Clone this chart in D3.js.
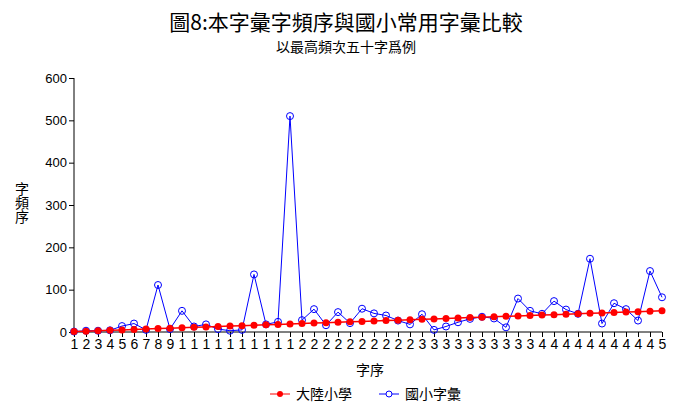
<!DOCTYPE html>
<html><head><meta charset="utf-8">
<script src="https://cdn.jsdelivr.net/npm/d3@7"></script>
<style>body{margin:0;background:#fff}svg{display:block}</style>
</head><body><div id="c"></div>
<script>
const titleText = "圖8:本字彙字頻序與國小常用字彙比較";
const subtitleText = "以最高頻次五十字爲例";
const seriesNames = ["大陸小學", "國小字彙"];
const ranks = d3.range(1, 51);
const mainland = d3.range(1, 51);
const taiwan = [1,3,3,4,14,20,5,111,7,50,13,18,7,3,5,136,18,24,510,28,54,16,47,21,55,44,39,27,18,42,5,13,23,31,36,32,11,79,50,43,73,53,43,173,20,68,54,27,144,82];
const yTicks = [0,100,200,300,400,500,600];

const W = 691, H = 418;
const svg = d3.select("#c").append("svg").attr("width", W).attr("height", H);
const cjk = "'Noto Sans CJK TC','Noto Sans CJK SC',sans-serif";
const num = "'Liberation Sans',Arial,sans-serif";

const x = d3.scalePoint().domain(ranks).range([74, 662]);
const y = d3.scaleLinear().domain([0, 600]).range([332, 78]);

svg.append("text").attr("x", 346).attr("y", 30).attr("text-anchor", "middle")
  .style("font-family", cjk).style("font-size", "21px").attr("fill", "#000").text(titleText);
svg.append("text").attr("x", 346).attr("y", 52).attr("text-anchor", "middle")
  .style("font-family", cjk).style("font-size", "14px").attr("fill", "#000").text(subtitleText);

// Y axis
const ya = svg.append("g").attr("transform", "translate(74,0)")
  .call(d3.axisLeft(y).tickValues(yTicks).tickSize(5).tickPadding(2).tickFormat(d3.format("d")));
ya.select(".domain").attr("stroke", "#000").attr("d", "M0,78V332");
ya.selectAll("text").style("font-family", num).style("font-size", "13px").attr("fill", "#000");

// X axis
const xa = svg.append("g").attr("transform", "translate(0,332)")
  .call(d3.axisBottom(x).tickSize(5).tickPadding(2).tickFormat(d => String(d)[0]));
xa.select(".domain").attr("stroke", "#000").attr("d", "M74,0H662");
xa.selectAll("text").style("font-family", num).style("font-size", "14px").attr("fill", "#000");

// Axis titles
svg.append("text").attr("x", 22).attr("y", 203).attr("text-anchor", "middle")
  .style("font-family", cjk).style("font-size", "14px")
  .style("writing-mode", "vertical-rl").style("text-orientation", "upright")
  .style("letter-spacing", "0px").attr("fill", "#000").text("字頻序");
svg.append("text").attr("x", 370).attr("y", 375).attr("text-anchor", "middle")
  .style("font-family", cjk).style("font-size", "14px").attr("fill", "#000").text("字序");

const line = d3.line().x((d, i) => x(ranks[i])).y(d => y(d));

// Taiwan (blue)
svg.append("path").datum(taiwan).attr("d", line).attr("fill", "none").attr("stroke", "#0000ff").attr("stroke-width", 1);
svg.selectAll(".tw").data(taiwan).enter().append("circle")
  .attr("cx", (d, i) => x(ranks[i])).attr("cy", d => y(d)).attr("r", 3.5)
  .attr("fill", "none").attr("stroke", "#0000ff").attr("stroke-width", 1);

// Mainland (red)
svg.append("path").datum(mainland).attr("d", line).attr("fill", "none").attr("stroke", "#ff0000").attr("stroke-width", 1.5);
svg.selectAll(".ml").data(mainland).enter().append("circle")
  .attr("cx", (d, i) => x(ranks[i])).attr("cy", d => y(d)).attr("r", 3.5)
  .attr("fill", "#ff0000");

// Legend
const lg = svg.append("g");
lg.append("line").attr("x1", 270).attr("x2", 290).attr("y1", 394).attr("y2", 394).attr("stroke", "#ff0000");
lg.append("circle").attr("cx", 280).attr("cy", 394).attr("r", 3).attr("fill", "#ff0000");
lg.append("text").attr("x", 296).attr("y", 399).style("font-family", cjk).style("font-size", "14px").attr("fill", "#000").text(seriesNames[0]);
lg.append("line").attr("x1", 379).attr("x2", 399).attr("y1", 394).attr("y2", 394).attr("stroke", "#0000ff");
lg.append("circle").attr("cx", 389).attr("cy", 394).attr("r", 3).attr("fill", "#fff").attr("stroke", "#0000ff");
lg.append("text").attr("x", 405).attr("y", 399).style("font-family", cjk).style("font-size", "14px").attr("fill", "#000").text(seriesNames[1]);
</script></body></html>
